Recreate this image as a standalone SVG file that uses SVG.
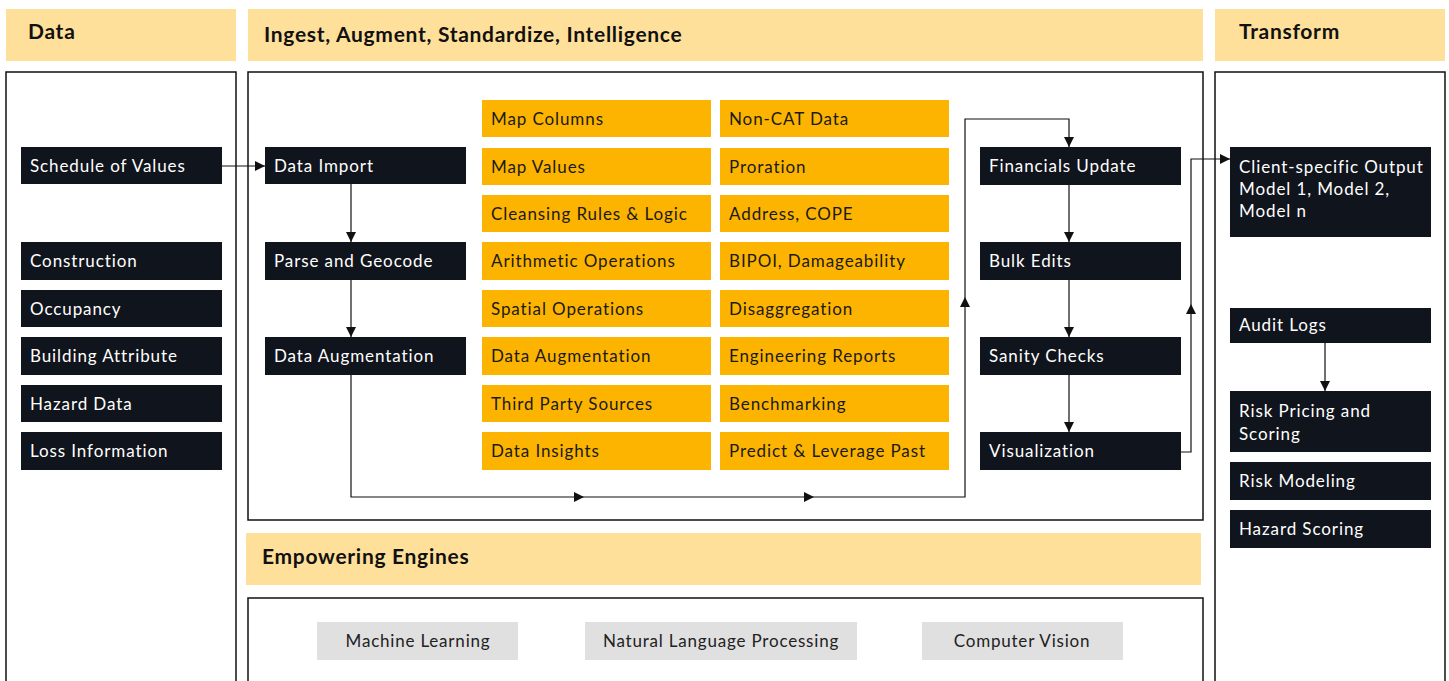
<svg xmlns="http://www.w3.org/2000/svg" width="1449" height="681" viewBox="0 0 1449 681">
<defs>
<style>
.hdr{fill:#FFE09A}
.panel{fill:#fff;stroke:#111;stroke-width:1.5}
.blk{fill:#10141C}
.org{fill:#FDB400}
.gry{fill:#E0E0E0}
.ht{font-family:"Lato","Liberation Sans",sans-serif;font-weight:700;font-size:21px;letter-spacing:0.7px;fill:#111}
.wt{font-family:"Lato","Liberation Sans",sans-serif;font-size:17px;letter-spacing:0.9px;fill:#fff}
.dt{font-family:"Lato","Liberation Sans",sans-serif;font-size:17px;letter-spacing:0.9px;fill:#1a1a1a}
.gt{font-family:"Lato","Liberation Sans",sans-serif;font-size:17px;letter-spacing:0.8px;fill:#222;text-anchor:middle}
.ln{fill:none;stroke:#111;stroke-width:1.2}
</style>
<marker id="ar" viewBox="0 0 10 10" refX="10" refY="5" markerWidth="10" markerHeight="10" markerUnits="userSpaceOnUse" orient="auto">
<path d="M0,0 L10,5 L0,10 Z" fill="#111"/>
</marker>
</defs>
<rect width="1449" height="681" fill="#fff"/>

<g id="headers">
<rect class="hdr" x="6" y="9" width="230" height="52"/>
<text class="ht" x="28" y="39">Data</text>
<rect class="hdr" x="248" y="9" width="955" height="52"/>
<text class="ht" x="264" y="42">Ingest, Augment, Standardize, Intelligence</text>
<rect class="hdr" x="1215" y="9" width="230" height="52"/>
<text class="ht" x="1239" y="39">Transform</text>
<rect class="hdr" x="246" y="533" width="955" height="52"/>
<text class="ht" x="262" y="564">Empowering Engines</text>
</g>

<g id="panels">
<rect class="panel" x="6" y="72" width="230" height="615"/>
<rect class="panel" x="248" y="72" width="955" height="448"/>
<rect class="panel" x="248" y="598" width="955" height="90"/>
<rect class="panel" x="1215" y="72" width="230" height="615"/>
</g>

<g id="data-nodes">
<g id="n-sov"><rect class="blk" x="21" y="147" width="201" height="37"/><text class="wt" x="30" y="172">Schedule of Values</text></g>
<g id="n-construction"><rect class="blk" x="21" y="242" width="201" height="38"/><text class="wt" x="30" y="267">Construction</text></g>
<g id="n-occupancy"><rect class="blk" x="21" y="290" width="201" height="37"/><text class="wt" x="30" y="315">Occupancy</text></g>
<g id="n-building"><rect class="blk" x="21" y="337" width="201" height="38"/><text class="wt" x="30" y="362">Building Attribute</text></g>
<g id="n-hazard"><rect class="blk" x="21" y="385" width="201" height="37"/><text class="wt" x="30" y="410">Hazard Data</text></g>
<g id="n-loss"><rect class="blk" x="21" y="432" width="201" height="38"/><text class="wt" x="30" y="457">Loss Information</text></g>
</g>

<g id="ingest-nodes">
<g id="n-import"><rect class="blk" x="265" y="147" width="201" height="37"/><text class="wt" x="274" y="172">Data Import</text></g>
<g id="n-parse"><rect class="blk" x="265" y="242" width="201" height="38"/><text class="wt" x="274" y="267">Parse and Geocode</text></g>
<g id="n-augment"><rect class="blk" x="265" y="337" width="201" height="38"/><text class="wt" x="274" y="362">Data Augmentation</text></g>
</g>

<g id="orange-col1">
<g id="o-mapcol"><rect class="org" x="482" y="100" width="229" height="37"/><text class="dt" x="491" y="125">Map Columns</text></g>
<g id="o-mapval"><rect class="org" x="482" y="148" width="229" height="37"/><text class="dt" x="491" y="173">Map Values</text></g>
<g id="o-cleansing"><rect class="org" x="482" y="195" width="229" height="37"/><text class="dt" x="491" y="220">Cleansing Rules &amp; Logic</text></g>
<g id="o-arith"><rect class="org" x="482" y="242" width="229" height="38"/><text class="dt" x="491" y="267">Arithmetic Operations</text></g>
<g id="o-spatial"><rect class="org" x="482" y="290" width="229" height="37"/><text class="dt" x="491" y="315">Spatial Operations</text></g>
<g id="o-dataaug"><rect class="org" x="482" y="337" width="229" height="38"/><text class="dt" x="491" y="362">Data Augmentation</text></g>
<g id="o-third"><rect class="org" x="482" y="385" width="229" height="37"/><text class="dt" x="491" y="410">Third Party Sources</text></g>
<g id="o-insights"><rect class="org" x="482" y="432" width="229" height="38"/><text class="dt" x="491" y="457">Data Insights</text></g>
</g>

<g id="orange-col2">
<g id="o-noncat"><rect class="org" x="720" y="100" width="229" height="37"/><text class="dt" x="729" y="125">Non-CAT Data</text></g>
<g id="o-proration"><rect class="org" x="720" y="148" width="229" height="37"/><text class="dt" x="729" y="173">Proration</text></g>
<g id="o-address"><rect class="org" x="720" y="195" width="229" height="37"/><text class="dt" x="729" y="220">Address, COPE</text></g>
<g id="o-bipoi"><rect class="org" x="720" y="242" width="229" height="38"/><text class="dt" x="729" y="267">BIPOI, Damageability</text></g>
<g id="o-disagg"><rect class="org" x="720" y="290" width="229" height="37"/><text class="dt" x="729" y="315">Disaggregation</text></g>
<g id="o-eng"><rect class="org" x="720" y="337" width="229" height="38"/><text class="dt" x="729" y="362">Engineering Reports</text></g>
<g id="o-bench"><rect class="org" x="720" y="385" width="229" height="37"/><text class="dt" x="729" y="410">Benchmarking</text></g>
<g id="o-predict"><rect class="org" x="720" y="432" width="229" height="38"/><text class="dt" x="729" y="457">Predict &amp; Leverage Past</text></g>
</g>

<g id="right-nodes">
<g id="n-fin"><rect class="blk" x="980" y="147" width="201" height="38"/><text class="wt" x="989" y="172">Financials Update</text></g>
<g id="n-bulk"><rect class="blk" x="980" y="242" width="201" height="38"/><text class="wt" x="989" y="267">Bulk Edits</text></g>
<g id="n-sanity"><rect class="blk" x="980" y="337" width="201" height="38"/><text class="wt" x="989" y="362">Sanity Checks</text></g>
<g id="n-vis"><rect class="blk" x="980" y="432" width="201" height="38"/><text class="wt" x="989" y="457">Visualization</text></g>
</g>

<g id="transform-nodes">
<g id="n-client"><rect class="blk" x="1230" y="147" width="201" height="90"/><text class="wt" x="1239" y="173">Client-specific Output</text><text class="wt" x="1239" y="195">Model 1, Model 2,</text><text class="wt" x="1239" y="217">Model n</text></g>
<g id="n-audit"><rect class="blk" x="1230" y="308" width="201" height="35"/><text class="wt" x="1239" y="331">Audit Logs</text></g>
<g id="n-riskpricing"><rect class="blk" x="1230" y="391" width="201" height="61"/><text class="wt" x="1239" y="417">Risk Pricing and</text><text class="wt" x="1239" y="440">Scoring</text></g>
<g id="n-riskmodel"><rect class="blk" x="1230" y="462" width="201" height="38"/><text class="wt" x="1239" y="487">Risk Modeling</text></g>
<g id="n-hazscore"><rect class="blk" x="1230" y="510" width="201" height="38"/><text class="wt" x="1239" y="535">Hazard Scoring</text></g>
</g>

<g id="engines">
<g id="e-ml"><rect class="gry" x="317" y="622" width="201" height="38"/><text class="gt" x="418" y="647">Machine Learning</text></g>
<g id="e-nlp"><rect class="gry" x="585" y="622" width="272" height="38"/><text class="gt" x="721" y="647">Natural Language Processing</text></g>
<g id="e-cv"><rect class="gry" x="922" y="622" width="201" height="38"/><text class="gt" x="1022" y="647">Computer Vision</text></g>
</g>

<g id="connectors">
<path class="ln" d="M222,166 H265" marker-end="url(#ar)"/>
<path class="ln" d="M351,184 V242" marker-end="url(#ar)"/>
<path class="ln" d="M351,280 V337" marker-end="url(#ar)"/>
<path class="ln" d="M351,375 V497 H584" marker-end="url(#ar)"/>
<path class="ln" d="M584,497 H814" marker-end="url(#ar)"/>
<path class="ln" d="M814,497 H965 V297" marker-end="url(#ar)"/>
<path class="ln" d="M965,297 V119 H1069 V147" marker-end="url(#ar)"/>
<path class="ln" d="M1069,185 V242" marker-end="url(#ar)"/>
<path class="ln" d="M1069,280 V337" marker-end="url(#ar)"/>
<path class="ln" d="M1069,375 V432" marker-end="url(#ar)"/>
<path class="ln" d="M1181,452 H1191 V304" marker-end="url(#ar)"/>
<path class="ln" d="M1191,304 V159 H1230" marker-end="url(#ar)"/>
<path class="ln" d="M1325,343 V391" marker-end="url(#ar)"/>
</g>
</svg>
